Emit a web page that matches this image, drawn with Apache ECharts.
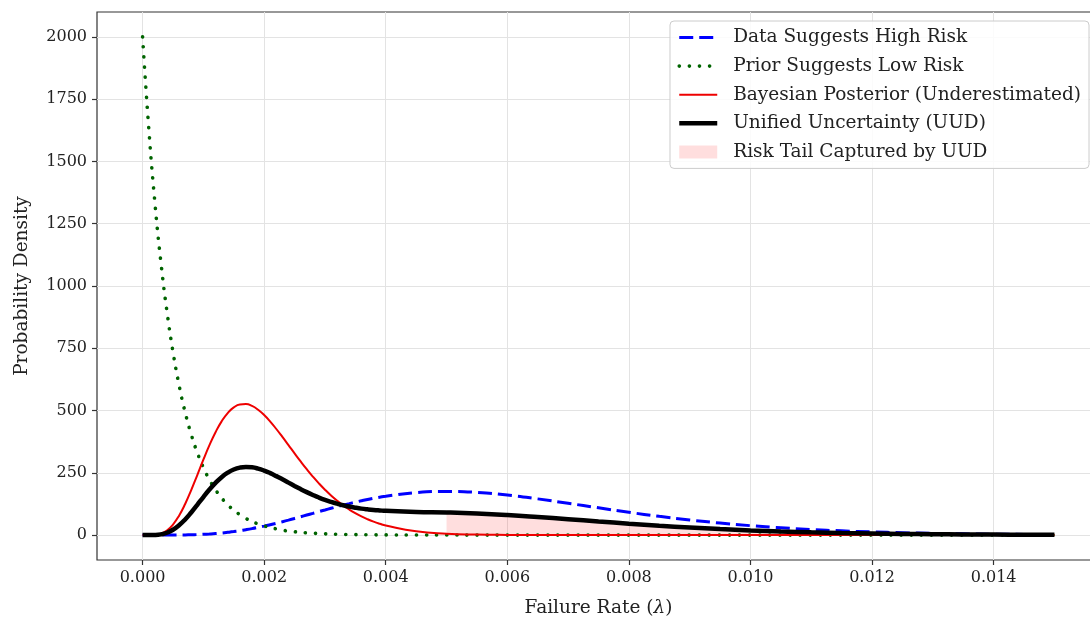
<!DOCTYPE html>
<html>
<head>
  <meta charset="UTF-8">
  <title>Risk tail</title>
  <script src="https://cdn.jsdelivr.net/npm/echarts@6/dist/echarts.min.js"></script>
  <style>
  html, body { margin: 0; padding: 0; background: #fff; }
  #main { width: 1090px; height: 617px; }
  </style>
</head>
<body>
  <div id="main"></div>
<script>
// failure rate grid: fine steps up to 0.004 where the curves bend hard
var lambda = [0, 0.0001, 0.0002, 0.0003, 0.0004, 0.0005, 0.0006, 0.0007, 0.0008, 0.0009,
  0.001, 0.0011, 0.0012, 0.0013, 0.0014, 0.0015, 0.0016, 0.0017, 0.0018, 0.0019,
  0.002, 0.0021, 0.0022, 0.0023, 0.0024, 0.0025, 0.0026, 0.0027, 0.0028, 0.0029,
  0.003, 0.0031, 0.0032, 0.0033, 0.0034, 0.0035, 0.0036, 0.0037, 0.0038, 0.0039, 0.004,
  0.0045, 0.005, 0.0055, 0.006, 0.0065, 0.007, 0.0075, 0.008, 0.0085, 0.009, 0.0095,
  0.01, 0.0105, 0.011, 0.0115, 0.012, 0.0125, 0.013, 0.0135, 0.014, 0.0145, 0.015];

var dataHigh = [0, 0, 0, 0.02, 0.1, 0.16, 0.4, 0.7, 1.2, 2.0,
  3.1, 4.5, 6.2, 8.4, 11.1, 14.1, 17.6, 21.6, 26.0, 30.9,
  36.1, 41.7, 47.6, 53.8, 60.2, 66.8, 73.5, 80.4, 87.2, 94.1,
  100.8, 107.5, 114.0, 120.3, 126.3, 132.2, 137.7, 142.9, 147.7, 152.2, 156.3,
  170.8, 175.5, 171.4, 160.6, 145.4, 127.7, 109.4, 91.6, 75.2, 60.7, 48.3,
  37.8, 29.3, 22.4, 17.0, 12.7, 9.5, 7.0, 5.1, 3.7, 2.7, 1.9];

var priorLow = [2000, 1638, 1341, 1098, 899, 736, 602, 493, 404, 331,
  271, 222, 182, 149, 122, 100, 82, 67, 55, 45,
  37, 30, 25, 20, 16, 13.5, 11, 9.0, 7.4, 6.1,
  5.0, 4.1, 3.3, 2.7, 2.2, 1.8, 1.5, 1.2, 1.0, 0.8, 0.7,
  0.25, 0.1, 0.03, 0, 0, 0, 0, 0, 0, 0, 0,
  0, 0, 0, 0, 0, 0, 0, 0, 0, 0, 0];

var posterior = [0, 0.05, 1.1, 6.0, 18.7, 42.4, 78.1, 125.0, 180.6, 241.1,
  302.5, 360.9, 413, 456.6, 490, 512.5, 524.3, 525.9, 518.5, 503.3,
  481.9, 455.6, 425.9, 394.0, 361.2, 328.1, 295.7, 264.6, 235.1, 207.6,
  182.2, 159.0, 138.1, 119.3, 102.6, 87.9, 74.9, 63.7, 53.9, 45.5, 38.2,
  15.4, 5.8, 2.1, 0.7, 0.24, 0.08, 0.02, 0.01, 0, 0, 0,
  0, 0, 0, 0, 0, 0, 0, 0, 0, 0, 0];

var unified = [0, 0.02, 0.5, 3.0, 9.4, 21.3, 39.2, 62.8, 90.9, 121.6,
  152.8, 182.7, 209.6, 232.5, 250.5, 263.3, 271.0, 273.8, 272.3, 267.1,
  259.0, 248.6, 236.7, 223.9, 210.7, 197.5, 184.6, 172.5, 161.2, 150.8,
  141.5, 133.3, 126.1, 119.8, 114.5, 110.1, 106.3, 103.3, 100.8, 98.9, 97.3,
  93.1, 90.7, 86.7, 80.7, 72.8, 63.9, 54.7, 45.8, 37.6, 30.4, 24.1,
  18.9, 14.7, 11.2, 8.5, 6.4, 4.7, 3.5, 2.6, 1.9, 1.3, 1.0];

var xTicks = [0, 0.002, 0.004, 0.006, 0.008, 0.010, 0.012, 0.014];
var yTicks = [0, 250, 500, 750, 1000, 1250, 1500, 1750, 2000];
var tailStart = 0.005;

var pairs = function(ys) {
  return lambda.map(function(x, i) { return [x, ys[i]]; });
};

// shaded tail under the UUD curve, from tailStart on
var tail = [];
lambda.forEach(function(x, i) {
  if (x >= tailStart) tail.push([x, unified[i]]);
});

var font = 'DejaVu Serif';
var ink = '#222';
var myChart = echarts.init(document.getElementById('main'));

var blueLine = { color: '#0000ff', width: 3, type: [14, 6] };
var greenLine = { color: '#006400', width: 3.6, type: [0.1, 10], cap: 'round' };
var redLine = { color: '#ee0000', width: 2 };
var blackLine = { color: '#000', width: 4.5 };
var tailColor = 'rgba(255,0,0,0.13)';
var hideSymbol = { opacity: 0 };

var option = {
  animation: false,
  backgroundColor: '#fff',
  textStyle: { fontFamily: font },
  grid: {
    left: 97, top: 12, right: -10, bottom: 57,
    show: true, borderColor: '#333', borderWidth: 1.2,
    outerBoundsMode: 'none'
  },
  legend: {
    orient: 'vertical',
    right: 1,
    top: 21,
    padding: [7, 8, 7, 7],
    itemWidth: 38,
    itemHeight: 13,
    itemGap: 9.6,
    backgroundColor: 'rgba(255,255,255,0.85)',
    borderColor: '#cccccc',
    borderWidth: 1,
    borderRadius: 4,
    textStyle: { fontFamily: font, fontSize: 18.5, color: ink, padding: [0, 0, 0, 11] },
    data: [
      { name: 'Data Suggests High Risk', itemStyle: hideSymbol, lineStyle: blueLine },
      { name: 'Prior Suggests Low Risk', itemStyle: hideSymbol, lineStyle: greenLine },
      { name: 'Bayesian Posterior (Underestimated)', itemStyle: hideSymbol, lineStyle: redLine },
      { name: 'Unified Uncertainty (UUD)', itemStyle: hideSymbol, lineStyle: blackLine },
      { name: 'Risk Tail Captured by UUD', icon: 'rect', itemStyle: { color: tailColor, borderWidth: 0 } }
    ]
  },
  xAxis: {
    type: 'value',
    min: -0.00075,
    max: 0.01575,
    name: 'Failure Rate ({i|λ})',
    nameLocation: 'middle',
    nameGap: 39,
    nameTextStyle: {
      fontFamily: font, fontSize: 18.5, color: ink,
      rich: { i: { fontFamily: font, fontStyle: 'italic', fontSize: 18.5, color: ink } }
    },
    axisLine: { show: false, onZero: false },
    axisTick: { show: true, customValues: xTicks, length: 5, lineStyle: { color: '#333', width: 1.2 } },
    axisLabel: {
      customValues: xTicks, margin: 10, fontSize: 16, color: ink, fontFamily: font,
      formatter: function(v) { return v.toFixed(3); }
    },
    splitLine: { show: true, lineStyle: { color: '#e3e3e3', width: 1 } }
  },
  yAxis: {
    type: 'value',
    min: -100,
    max: 2100,
    name: 'Probability Density',
    nameLocation: 'middle',
    nameGap: 65,
    nameTextStyle: { fontFamily: font, fontSize: 18.5, color: ink },
    axisLine: { show: false, onZero: false },
    axisTick: { show: true, customValues: yTicks, length: 5, lineStyle: { color: '#333', width: 1.2 } },
    axisLabel: {
      customValues: yTicks, margin: 10, fontSize: 16, color: ink, fontFamily: font,
      formatter: function(v) { return String(v); }
    },
    splitLine: { show: true, lineStyle: { color: '#e3e3e3', width: 1 } }
  },
  series: [
    {
      name: 'Risk Tail Captured by UUD', type: 'line', data: tail,
      symbol: 'none', smooth: 0.5, silent: true,
      lineStyle: { opacity: 0 },
      itemStyle: { color: tailColor },
      areaStyle: { color: tailColor, opacity: 1, origin: 0 }, z: 1
    },
    {
      name: 'Data Suggests High Risk', type: 'line', data: pairs(dataHigh),
      symbol: 'none', smooth: 0.5,
      itemStyle: { color: '#0000ff' }, lineStyle: blueLine, z: 3
    },
    {
      name: 'Prior Suggests Low Risk', type: 'line', data: pairs(priorLow),
      symbol: 'none', smooth: 0.5,
      itemStyle: { color: '#006400' }, lineStyle: greenLine, z: 3
    },
    {
      name: 'Bayesian Posterior (Underestimated)', type: 'line', data: pairs(posterior),
      symbol: 'none', smooth: 0.5,
      itemStyle: { color: '#ee0000' }, lineStyle: redLine, z: 3
    },
    {
      name: 'Unified Uncertainty (UUD)', type: 'line', data: pairs(unified),
      symbol: 'none', smooth: 0.5,
      itemStyle: { color: '#000' }, lineStyle: blackLine, z: 4
    }
  ]
};

myChart.setOption(option);
</script>
</body>
</html>
